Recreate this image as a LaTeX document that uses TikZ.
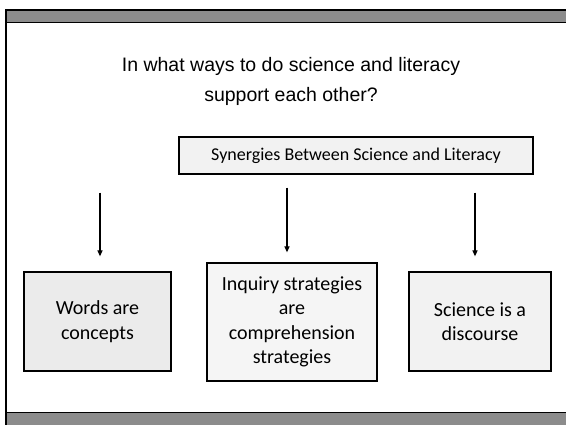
\documentclass[tikz,border=0pt]{standalone}
\usepackage{fontspec}
\setmainfont{Carlito}
\newfontfamily\headfont{Liberation Sans}
\usetikzlibrary{arrows.meta}
\definecolor{barfill}{HTML}{8C8C8C}
\definecolor{boxlight}{HTML}{F2F2F2}
\definecolor{boxdark}{HTML}{EBEBEB}

\begin{document}
\begin{tikzpicture}[x=1pt,y=-1pt,
  card/.style={draw=black,line width=1.2pt,inner sep=0pt,align=center,
    font=\fontsize{20}{24.5}\selectfont},
  arr/.style={-{Triangle[length=6pt,width=5pt]},line width=1.2pt}]
  \useasboundingbox (0,0) rectangle (566,425);
  % slide frame with header and footer bars
  \fill[white] (0,0) rectangle (566,425);
  \fill[barfill] (6,10) rectangle (566,23);
  \fill[barfill] (6,413) rectangle (566,425);
  \draw[line width=1.6pt] (566,10) -- (6,10) -- (6,425);
  \draw[line width=1pt] (6,23) -- (566,23);
  \draw[line width=1pt] (6,413) -- (566,413);

  \node[align=center,font=\headfont\fontsize{19.5}{30}\selectfont] (title) at (291,81)
    {In what ways to do science and literacy\\support each other?};

  \node[card,fill=boxlight,minimum width=354pt,minimum height=37pt,
    font=\fontsize{18}{22}\selectfont] (syn) at (356,155.5)
    {Synergies Between Science and Literacy};

  \node[card,fill=boxdark,minimum width=147pt,minimum height=99pt] (words) at (97.5,321.5)
    {Words are\\concepts};
  \node[card,fill=boxlight!80!white,minimum width=170pt,minimum height=118pt] (inquiry) at (292,322)
    {Inquiry strategies\\are\\comprehension\\strategies};
  \node[card,fill=boxlight,minimum width=142pt,minimum height=99pt] (discourse) at (480,321.5)
    {Science is a\\discourse};

  % one arrow down to each idea
  \draw[arr] ([xshift=2.5pt,yshift=-18pt]syn.south -| words.north) -- ([xshift=2.5pt,yshift=15pt]words.north);
  \draw[arr] ([xshift=-5pt,yshift=-13pt]syn.south -| inquiry.north) -- ([xshift=-5pt,yshift=10pt]inquiry.north);
  \draw[arr] ([xshift=-5pt,yshift=-18pt]syn.south -| discourse.north) -- ([xshift=-5pt,yshift=15pt]discourse.north);
\end{tikzpicture}
\end{document}
